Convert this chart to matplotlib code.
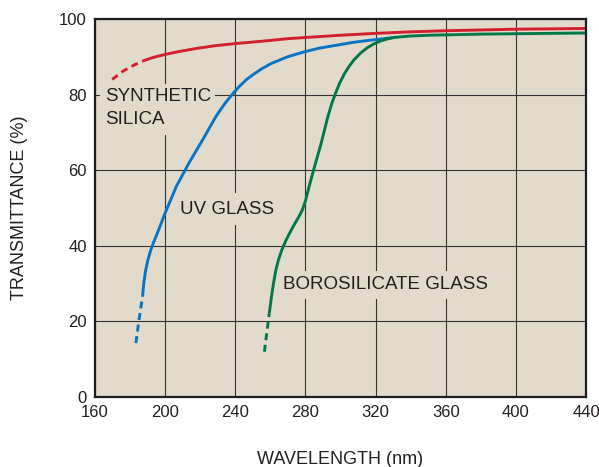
import matplotlib
matplotlib.use("Agg")
import matplotlib.pyplot as plt

plt.rcParams["font.family"] = ["Liberation Sans", "DejaVu Sans"]

# --- data (wavelength nm, transmittance %) ---
silica_dash_x = [169.8, 176.0, 182.7, 187.4]
silica_dash_y = [84.0, 86.2, 87.9, 88.9]
silica_x = [187.4, 193.0, 199.8, 208.0, 217.8, 228.0, 240.1, 250.0, 259.4, 270, 280, 300, 320, 340,
            360, 380, 400, 420, 440]
silica_y = [88.9, 89.8, 90.6, 91.4, 92.2, 92.9, 93.5, 93.9, 94.3, 94.8, 95.1, 95.7, 96.2, 96.6,
            96.9, 97.1, 97.3, 97.4, 97.5]

uv_dash_x = [183.3, 185.0, 187.1]
uv_dash_y = [14.2, 20.0, 26.5]
uv_x = [187.1, 187.8, 188.8, 190.0, 191.5, 193.2, 195.3, 199.8, 206.4, 213.6, 221.5, 229.1, 234.0,
        238.0, 242.0, 246.2, 250.5, 255.0, 260.4, 269.8, 279.3, 288.0, 298.2, 307.0, 317.2,
        326.6, 332.0]
uv_y = [26.5, 30.0, 33.2, 35.9, 38.4, 40.6, 43.0, 48.4, 55.7, 61.9, 68.1, 74.3, 77.6,
        79.9, 82.0, 83.9, 85.4, 86.8, 88.2, 90.0, 91.3, 92.3, 93.1, 93.8, 94.4,
        94.9, 95.2]

boro_dash_x = [256.6, 258.0, 259.4]
boro_dash_y = [11.9, 17.0, 22.1]
boro_x = [259.4, 260.5, 261.7, 263.0, 264.6, 266.5, 268.8, 271.3, 273.8, 276.2, 278.2, 280.0,
          282.0, 285.0, 288.8, 292.6, 295.0, 297.3, 299.6, 302.0, 304.8, 307.7, 311.5, 315.3,
          319.0, 322.9, 326.5, 330.5, 335.0, 340, 350, 360, 380, 400, 420, 440]
boro_y = [22.1, 26.0, 29.8, 33.2, 36.2, 38.8, 41.3, 43.6, 45.7, 47.6, 49.4, 51.8,
          55.5, 60.6, 66.8, 73.8, 77.6, 80.5, 83.1, 85.3, 87.4, 89.2, 91.0, 92.4,
          93.4, 94.2, 94.7, 95.1, 95.3, 95.5, 95.7, 95.8, 96.0, 96.1, 96.2, 96.3]

x_ticks = [160, 200, 240, 280, 320, 360, 400, 440]
y_ticks = [0, 20, 40, 60, 80, 100]

RED, BLUE, GREEN = "#D2202E", "#0A74C4", "#00784A"
INK = "#231F20"
BG = "#E2DBCB"
DASH = (0, (2.4, 1.6))

fig = plt.figure(figsize=(5.99, 4.67), dpi=100)
ax = fig.add_axes([0.1586, 0.1505, 0.8197, 0.8088])
ax.set_facecolor(BG)

kw = dict(lw=2.1, solid_capstyle="butt", solid_joinstyle="round", zorder=4)
ax.plot(uv_dash_x, uv_dash_y, color=BLUE, ls=DASH, **kw)
ax.plot(uv_x, uv_y, color=BLUE, **kw)
ax.plot(boro_dash_x, boro_dash_y, color=GREEN, ls=DASH, **kw)
ax.plot(boro_x, boro_y, color=GREEN, **kw)
ax.plot(silica_dash_x, silica_dash_y, color=RED, ls=DASH, **kw)
ax.plot(silica_x, silica_y, color=RED, **kw)

ax.set_xlim(160, 440)
ax.set_ylim(0, 100)
ax.set_xticks(x_ticks)
ax.set_yticks(y_ticks)
ax.tick_params(length=0, labelsize=12, labelcolor=INK, pad=6)
ax.grid(True, color="#353535", lw=0.8, zorder=1)
ax.set_axisbelow(True)
for s in ax.spines.values():
    s.set_color("#1e1e1e")
    s.set_linewidth(1.6)
    s.set_zorder(6)

tkw = dict(fontsize=13.5, color=INK, ha="left", va="baseline", zorder=3)
ax.text(165.5, 78.2, "SYNTHETIC", bbox=dict(boxstyle="square,pad=0.25", fc=BG, ec="none"), **tkw)
ax.text(165.5, 72.1, "SILICA", bbox=dict(boxstyle="square,pad=0.35", fc=BG, ec="none"), **tkw)
ax.text(208.3, 48.5, "UV GLASS", bbox=dict(boxstyle="square,pad=0.4", fc=BG, ec="none"), **tkw)
ax.text(267.2, 28.4, "BOROSILICATE GLASS", bbox=dict(boxstyle="square,pad=0.3", fc=BG, ec="none"), **tkw)

ax.set_xlabel("WAVELENGTH (nm)", fontsize=13, color=INK, va="center")
ax.set_ylabel("TRANSMITTANCE (%)", fontsize=13, color=INK, va="center")
ax.xaxis.set_label_coords(0.5, -0.165)
ax.yaxis.set_label_coords(-0.153, 0.5)

fig.savefig("out.png", dpi=100)
